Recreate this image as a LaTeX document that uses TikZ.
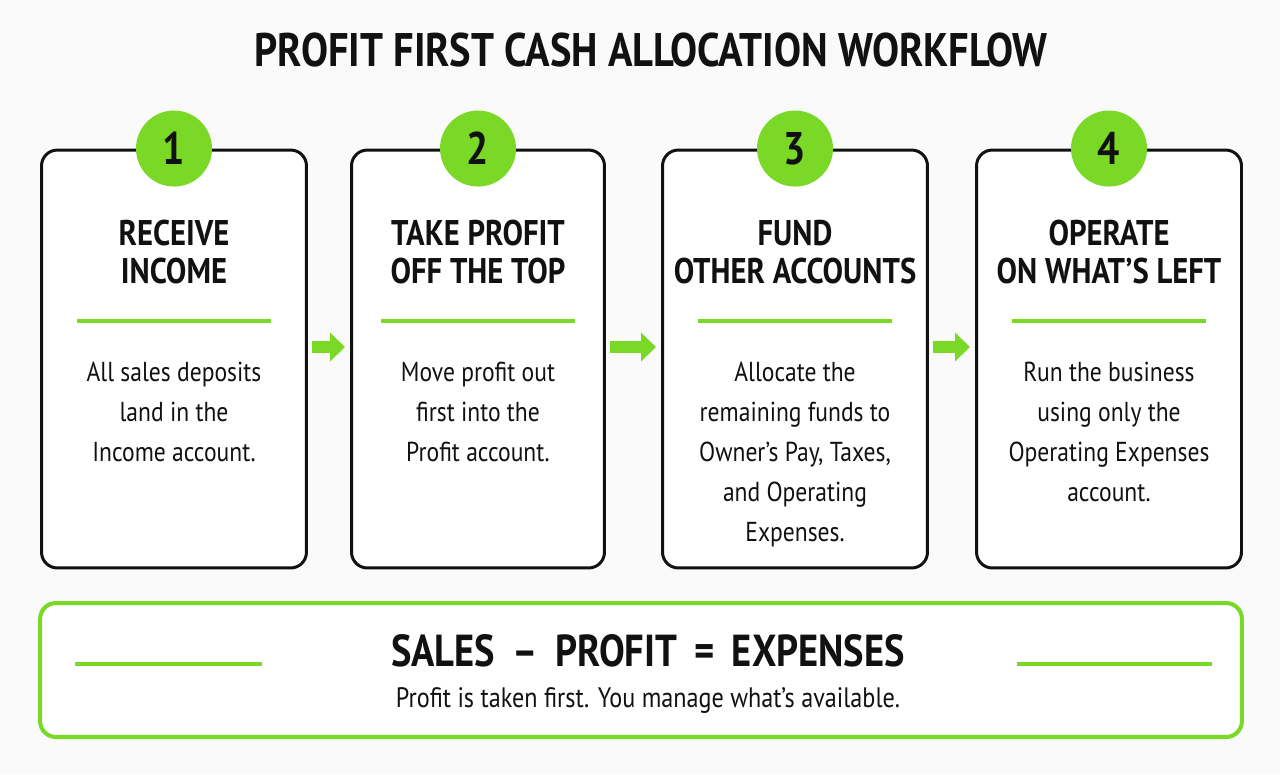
\documentclass[tikz,border=0pt]{standalone}
\usepackage{fontspec}
\setmainfont{PT Sans}[FakeStretch=0.86]
\usepackage{xcolor}
\definecolor{pfGreen}{RGB}{122, 216, 38}
\definecolor{pfDark}{RGB}{17, 17, 17}
\definecolor{pfBg}{RGB}{250, 250, 250}
\usetikzlibrary{arrows.meta, positioning, calc}
\tikzset{
  % Step kutulari
  stepbox/.style={
    draw=pfDark,
    line width=1.7pt,
    rounded corners=9pt,
    fill=white,
    minimum width=5.3cm,
    minimum height=8.36cm
  },
  numcircle/.style={
    circle,
    fill=pfGreen,
    minimum size=1.52cm,
    inner sep=0pt,
    font=\fontsize{26}{28}\selectfont\bfseries,
    text=pfDark
  },
  steptitle/.style={
    align=center,
    font=\fontsize{20.3}{22}\selectfont\bfseries,
    text=pfDark
  },
  steptext/.style={
    align=center,
    anchor=north,
    font=\fontsize{15.6}{22.7}\selectfont,
    text=pfDark
  },
  % Cizgi ve ok stilleri
  greenrule/.style={draw=pfGreen, line width=1.8pt},
  flowarrow/.style={
    -{Triangle[length=3mm, width=5.6mm]},
    draw=pfGreen,
    line width=2.3mm
  },
  % Alt kutu
  summarybox/.style={
    draw=pfGreen,
    line width=2.3pt,
    rounded corners=9pt,
    fill=white,
    minimum width=24.04cm,
    minimum height=2.68cm
  },
}
\begin{document}
\begin{tikzpicture}[x=0.02cm, y=-0.02cm]
  \fill[pfBg] (0,0) rectangle (1280,774);
  \node[font=\fontsize{26.8}{28}\selectfont\bfseries, text=pfDark] (title) at (651,50)
    {PROFIT FIRST CASH ALLOCATION WORKFLOW};

  % Adim kutulari
  \node[stepbox] (s1) at (174,359) {};
  \node[stepbox, minimum width=5.06cm] (s2) at (478,359) {};
  \node[stepbox] (s3) at (795,359) {};
  \node[stepbox] (s4) at (1109,359) {};

  \foreach \n in {1,2,3,4}{
    \node[numcircle] (c\n) at (s\n.north) {\n};
  }

  \node[steptitle] (t1) at (174,252) {RECEIVE\\INCOME};
  \node[steptitle] (t2) at (478,252) {TAKE PROFIT\\OFF THE TOP};
  \node[steptitle] (t3) at (795,252) {FUND\\OTHER ACCOUNTS};
  \node[steptitle] (t4) at (1109,252) {OPERATE\\ON WHAT'S LEFT};

  \foreach \x/\n in {174/1,478/2,795/3,1109/4}{
    \coordinate (rl\n) at (\x-97,321);
    \coordinate (rr\n) at (\x+97,321);
    \draw[greenrule] (rl\n) -- (rr\n);
  }

  \node[steptext] (d1) at (174,356) {All sales deposits\\land in the\\Income account.};
  \node[steptext] (d2) at (478,356) {Move profit out\\first into the\\Profit account.};
  \node[steptext] (d3) at (795,356) {Allocate the\\remaining funds to\\Owner's Pay, Taxes,\\and Operating\\Expenses.};
  \node[steptext] (d4) at (1109,356) {Run the business\\using only the\\Operating Expenses\\account.};

  \draw[flowarrow, shorten <=0.08cm, shorten >=0.1cm] ([yshift=0.24cm]s1.east) -- ([yshift=0.24cm]s2.west);
  \draw[flowarrow, shorten <=0.08cm, shorten >=0.1cm] ([yshift=0.24cm]s2.east) -- ([yshift=0.24cm]s3.west);
  \draw[flowarrow, shorten <=0.08cm, shorten >=0.1cm] ([yshift=0.24cm]s3.east) -- ([yshift=0.24cm]s4.west);

  % Ozet kutusu
  \node[summarybox] (sum) at (641,670) {};
  \node[font=\fontsize{25.5}{27}\selectfont\bfseries, text=pfDark] (eq) at (648,651)
    {SALES \,–\, PROFIT \,=\, EXPENSES};
  \node[below=0.16cm of eq, font=\fontsize{16}{18}\selectfont, text=pfDark] (note)
    {Profit is taken first. You manage what's available.};
  \coordinate (ll) at (75,664);
  \coordinate (lr) at (262,664);
  \coordinate (rl) at (1017,664);
  \coordinate (rr) at (1212,664);
  \draw[greenrule] (ll) -- (lr);
  \draw[greenrule] (rl) -- (rr);
\end{tikzpicture}
\end{document}
